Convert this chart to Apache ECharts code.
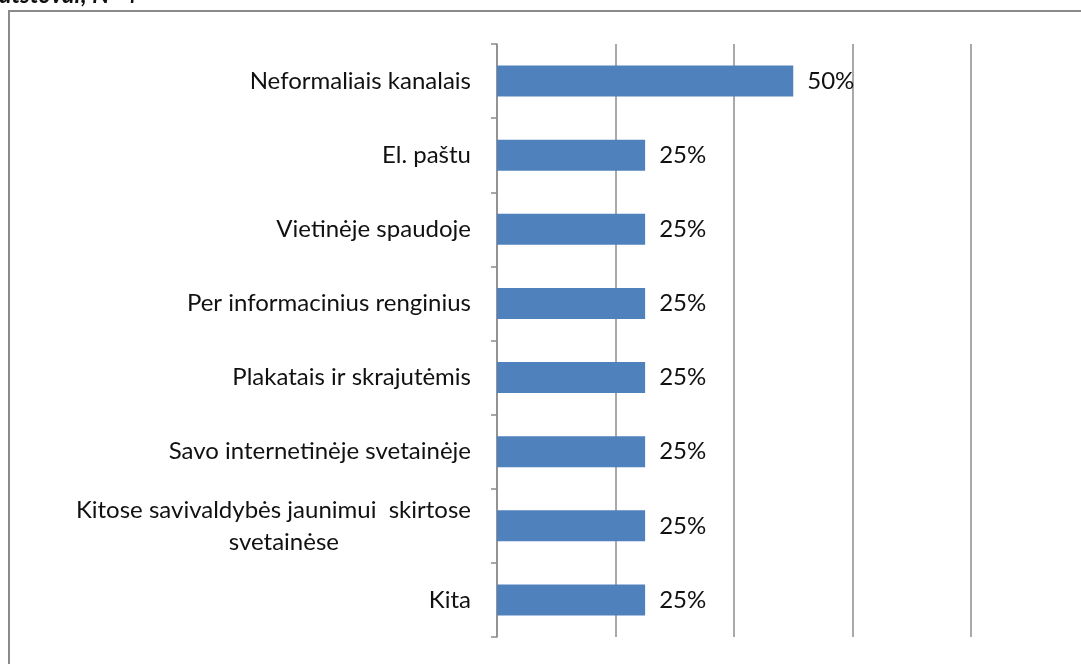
<!DOCTYPE html>
<html lang="lt">
<head>
    <meta charset="UTF-8">
    <title>Chart</title>
    <style>
        html, body { margin: 0; padding: 0; background: #fff; }
        #bar { width: 1081px; height: 664px; }
    </style>
    <script src="https://cdn.jsdelivr.net/npm/echarts@6/dist/echarts.min.js"></script>
</head>
<body>
    <div id="bar"></div>
    <script>
        var categories = [
            'Neformaliais kanalais',
            'El. paštu',
            'Vietinėje spaudoje',
            'Per informacinius renginius',
            'Plakatais ir skrajutėmis',
            'Savo internetinėje svetainėje',
            'Kitose savivaldybės jaunimui  skirtose\nsvetainėse',
            'Kita'
        ];
        var values = [50, 25, 25, 25, 25, 25, 25, 25];
        var valueTicks = [0, 20, 40, 60, 80];
        var headerText = 'atstovai; N=4';

        var font = 'Lato, "Open Sans", sans-serif';

        echarts.init(document.getElementById('bar')).setOption({
            animation: false,
            graphic: [
                {
                    type: 'rect',
                    shape: { x: 9, y: 11, width: 1100, height: 700 },
                    style: { fill: 'none', stroke: '#8a8a8a', lineWidth: 2 }
                },
                {
                    type: 'text',
                    left: -1,
                    top: -17,
                    style: {
                        text: headerText,
                        font: 'italic bold 24px ' + font,
                        fill: '#111'
                    }
                }
            ],
            grid: {
                left: 497,
                top: 44,
                width: 474,
                height: 593,
                containLabel: false
            },
            xAxis: {
                type: 'value',
                min: valueTicks[0],
                max: valueTicks[valueTicks.length - 1],
                interval: 20,
                axisLabel: { show: false },
                axisTick: { show: false },
                axisLine: { show: false },
                splitLine: {
                    show: true,
                    lineStyle: { color: '#8c8c8c', width: 1.5 }
                }
            },
            yAxis: {
                type: 'category',
                inverse: true,
                data: categories,
                axisLine: {
                    show: true,
                    lineStyle: { color: '#8c8c8c', width: 1.5 }
                },
                axisTick: {
                    show: true,
                    length: 6,
                    lineStyle: { color: '#8c8c8c', width: 1.5 }
                },
                axisLabel: {
                    margin: 26,
                    color: '#111',
                    fontSize: 24,
                    fontFamily: font,
                    lineHeight: 32,
                    formatter: function (v) {
                        var parts = v.split('\n');
                        if (parts.length > 1) {
                            return '{a|' + parts[0] + '}\n{a|' + parts[1] + '}{pad|}';
                        }
                        return v;
                    },
                    rich: {
                        a: { fontSize: 24, fontFamily: font, color: '#111', lineHeight: 32 },
                        pad: { width: 132 }
                    }
                }
            },
            series: [
                {
                    type: 'bar',
                    data: values,
                    barWidth: 31,
                    itemStyle: { color: '#4f81bd' },
                    label: {
                        show: true,
                        position: 'right',
                        distance: 14,
                        formatter: '{c}%',
                        color: '#111',
                        fontSize: 24,
                        fontFamily: font
                    }
                }
            ]
        });
    </script>
</body>
</html>
